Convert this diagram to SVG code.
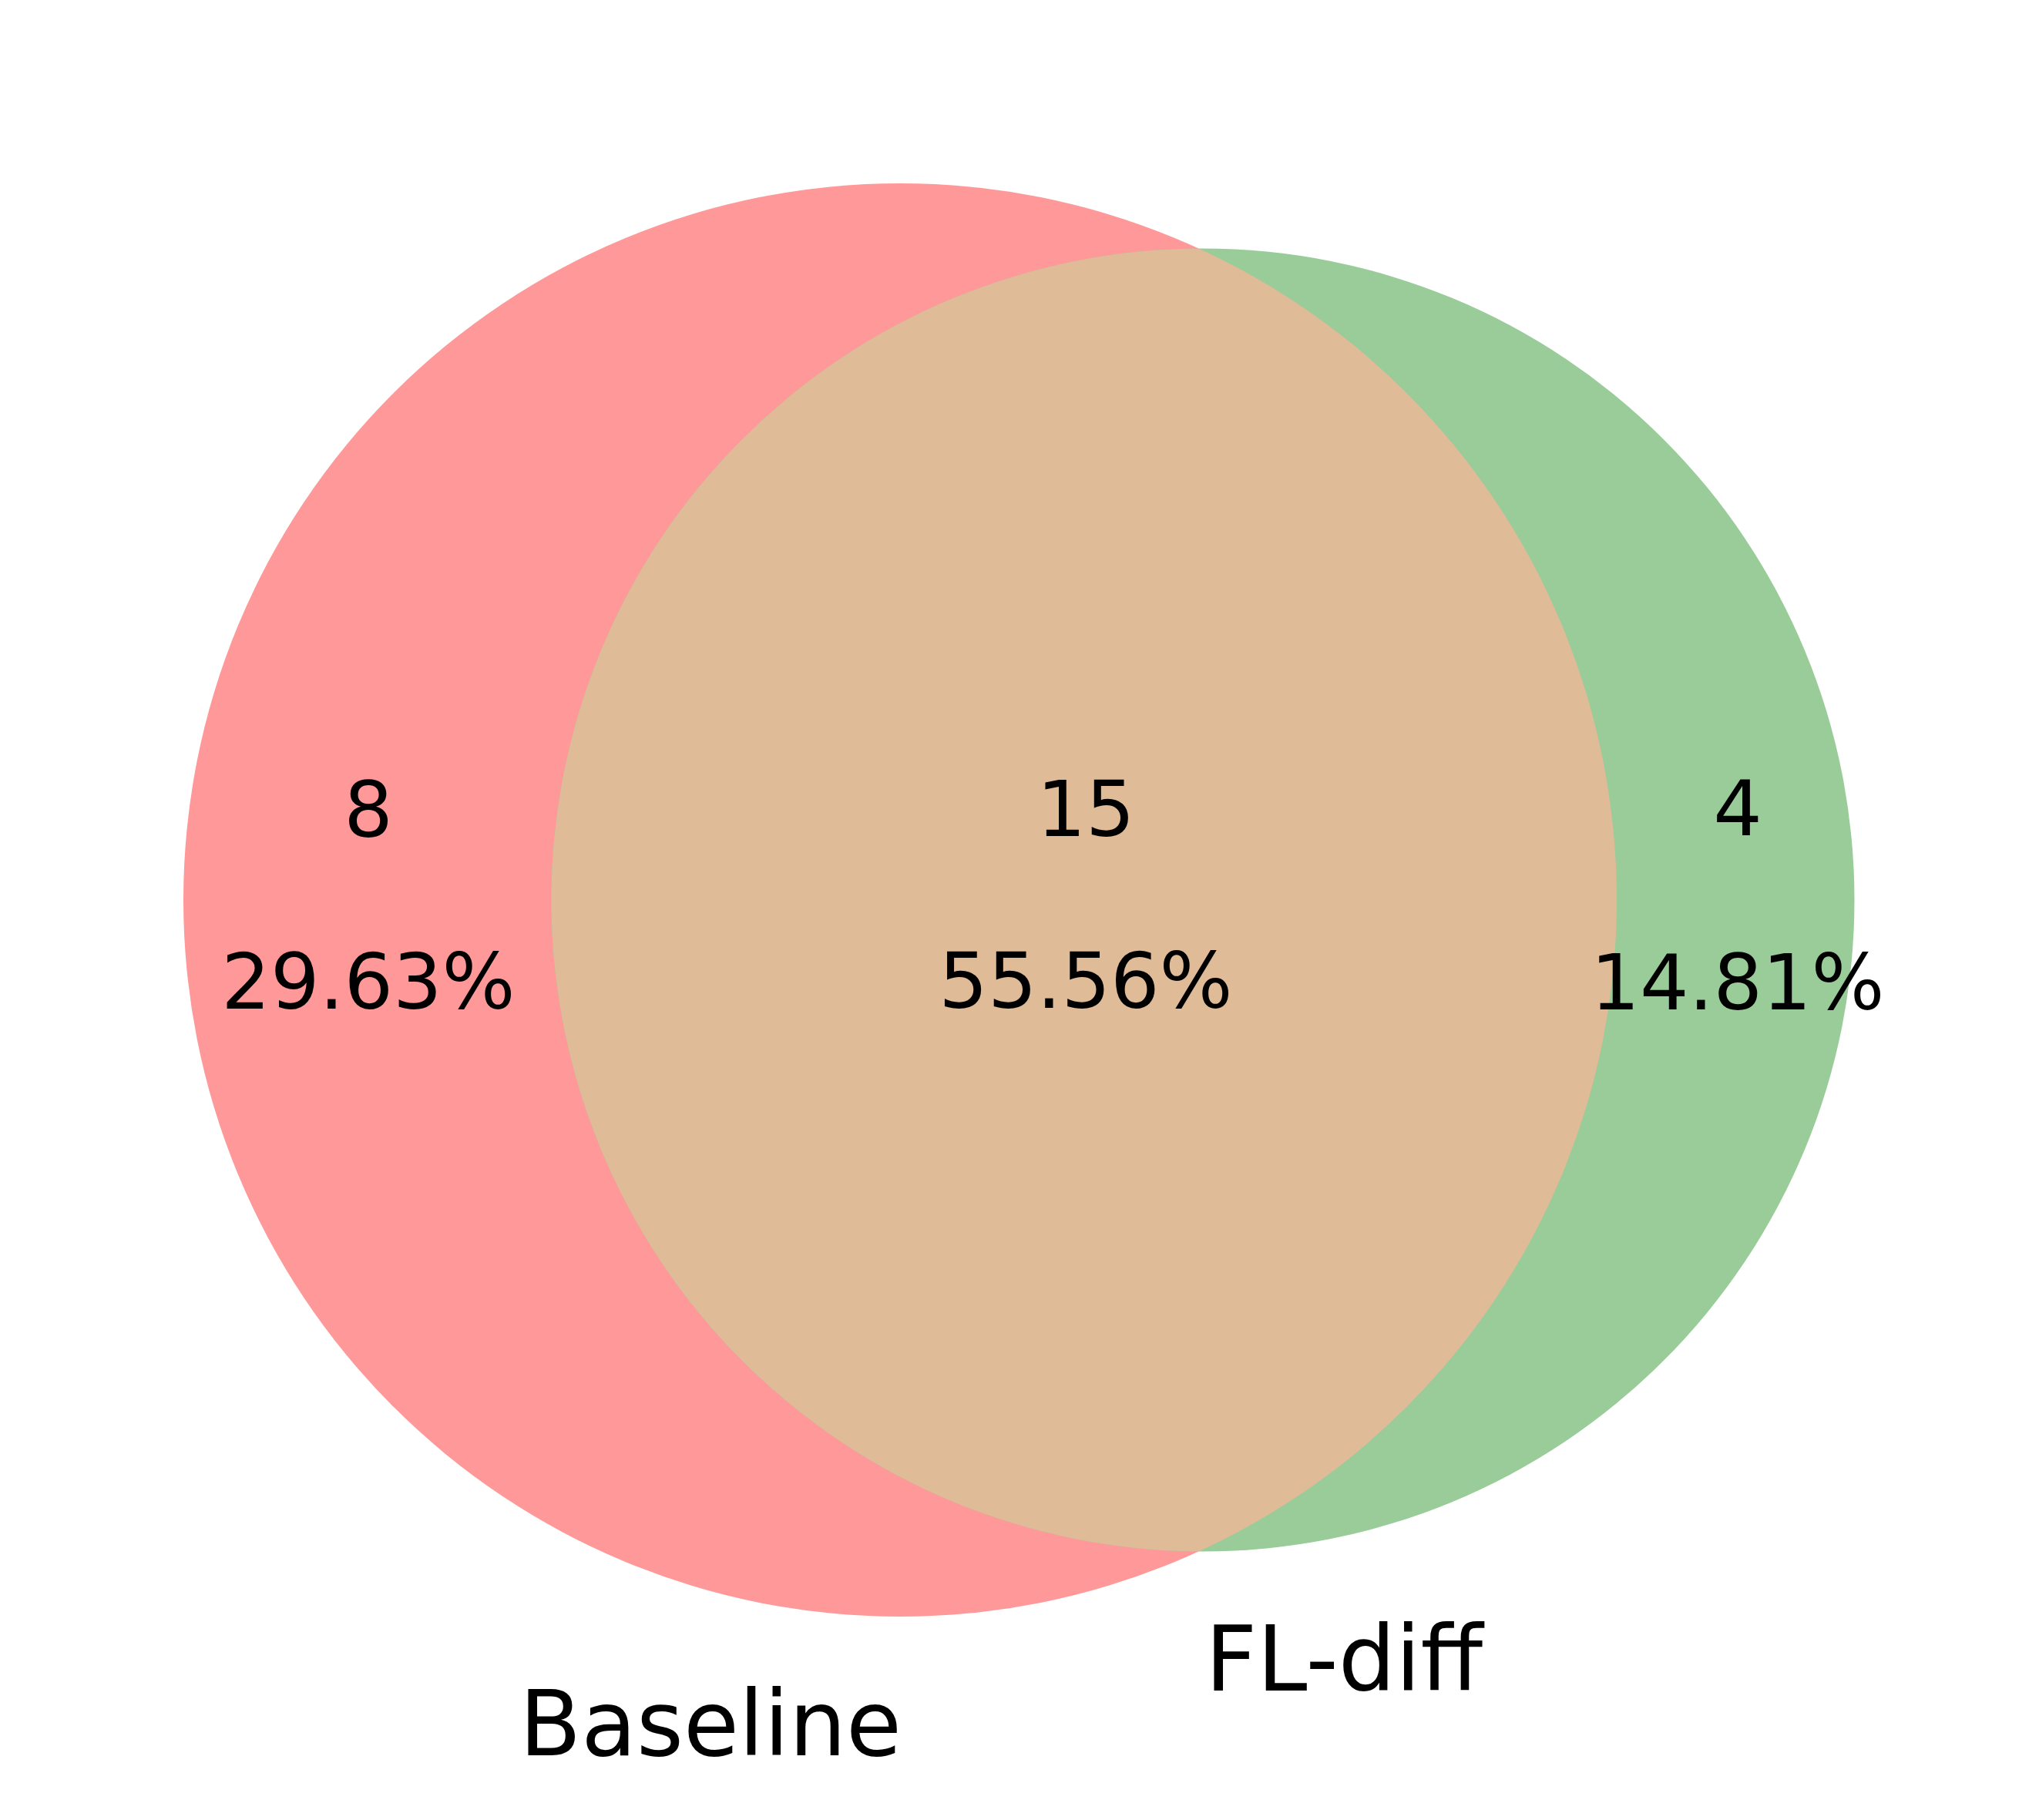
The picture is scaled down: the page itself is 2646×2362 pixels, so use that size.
<svg xmlns="http://www.w3.org/2000/svg" width="2646" height="2362" viewBox="0 0 2646 2362">
<defs>
<style>
.num{font-family:"DejaVu Sans",sans-serif;font-size:100px;fill:#000;text-anchor:middle}
.lbl{font-family:"DejaVu Sans",sans-serif;font-size:117px;fill:#000;text-anchor:middle}
</style>
<clipPath id="clipL"><circle cx="1168" cy="1168" r="930"/></clipPath>
</defs>
<rect width="2646" height="2362" fill="#ffffff"/>
<g id="set-baseline">
<circle cx="1168" cy="1168" r="930" fill="#ff9999"/>
</g>
<g id="set-fldiff">
<circle cx="1561" cy="1168" r="845.5" fill="#99cc99"/>
</g>
<g id="intersection">
<circle cx="1561" cy="1168" r="845.5" fill="#e0bb98" clip-path="url(#clipL)"/>
</g>
<g id="connectors"/>
<g id="region-labels">
<text class="num" x="478" y="1086">8</text>
<text class="num" x="478" y="1309">29.63%</text>
<text class="num" x="1409" y="1085">15</text>
<text class="num" x="1409" y="1308">55.56%</text>
<text class="num" x="2255" y="1084">4</text>
<text class="num" x="2255" y="1310">14.81%</text>
</g>
<g id="set-labels">
<text class="lbl" x="922" y="2278">Baseline</text>
<text class="lbl" x="1744" y="2194">FL-diff</text>
</g>
</svg>
